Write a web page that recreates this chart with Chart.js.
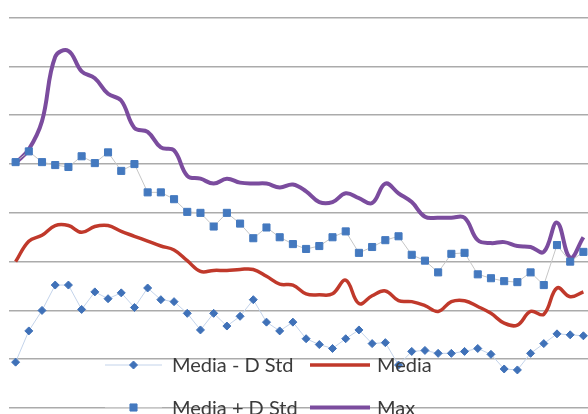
<!DOCTYPE html>
<html>
<head>
<meta charset="utf-8">
<title>Media y desviación estándar</title>
<script src="https://cdn.jsdelivr.net/npm/chart.js@4.4.1/dist/chart.umd.min.js"></script>
<style>
  html, body { margin: 0; padding: 0; background: #ffffff; overflow: hidden; }
  #wrap { width: 588px; height: 414px; overflow: hidden; position: relative; }
  #grafico { display: block; }
</style>
</head>
<body>
<div id="wrap"><canvas id="grafico" width="596" height="414"></canvas></div>
<script>
// Categorías del eje horizontal
const categorias = [
  '1','2','3','4','5','6','7','8','9','10','11','12','13','14','15','16','17','18','19','20','21','22',
  '23','24','25','26','27','28','29','30','31','32','33','34','35','36','37','38','39','40','41','42','43','44'
];

// Series
const mediaMenosDStd = [
  0.94, 1.58, 2.00, 2.52, 2.52, 2.02, 2.38, 2.24, 2.36, 2.06, 2.46, 2.22, 2.18, 1.94, 1.60, 1.94,
  1.68, 1.88, 2.22, 1.76, 1.58, 1.76, 1.42, 1.30, 1.22, 1.42, 1.60, 1.32, 1.34, 0.88, 1.16, 1.18,
  1.12, 1.12, 1.16, 1.22, 1.10, 0.80, 0.78, 1.12, 1.32, 1.52, 1.50, 1.48
];
const mediaMasDStd = [
  5.04, 5.26, 5.04, 4.98, 4.94, 5.16, 5.02, 5.24, 4.86, 5.00, 4.42, 4.42, 4.28, 4.02, 4.00, 3.72,
  4.00, 3.78, 3.48, 3.70, 3.50, 3.36, 3.26, 3.32, 3.50, 3.62, 3.18, 3.30, 3.44, 3.52, 3.14, 3.02,
  2.78, 3.16, 3.18, 2.74, 2.66, 2.60, 2.58, 2.78, 2.52, 3.34, 3.00, 3.20
];
const media = [
  3.00, 3.42, 3.54, 3.74, 3.74, 3.60, 3.72, 3.74, 3.62, 3.52, 3.42, 3.32, 3.24, 3.02, 2.80, 2.82,
  2.82, 2.84, 2.84, 2.70, 2.54, 2.52, 2.34, 2.32, 2.34, 2.62, 2.14, 2.30, 2.40, 2.20, 2.18, 2.10,
  1.98, 2.18, 2.20, 2.08, 1.94, 1.74, 1.70, 1.98, 1.92, 2.46, 2.28, 2.38
];
const maximo = [
  5.02, 5.30, 5.88, 7.20, 7.32, 6.90, 6.76, 6.44, 6.30, 5.74, 5.66, 5.34, 5.28, 4.76, 4.70, 4.60,
  4.70, 4.62, 4.60, 4.60, 4.52, 4.58, 4.44, 4.22, 4.22, 4.40, 4.30, 4.20, 4.60, 4.40, 4.22, 3.92,
  3.90, 3.90, 3.90, 3.44, 3.38, 3.40, 3.32, 3.30, 3.20, 3.80, 3.08, 3.50
];

// Leyenda dibujada dentro del área del gráfico, en dos filas y dos columnas
const leyendaInterna = {
  id: 'leyendaInterna',
  afterDatasetsDraw(chart, args, opts) {
    const ctx = chart.ctx;
    const ds = chart.data.datasets;
    ctx.save();
    opts.entradas.forEach(e => {
      const d = ds[e.indice];
      const y = opts.filas[e.fila];
      const col = opts.columnas[e.columna];
      ctx.beginPath();
      ctx.strokeStyle = d.borderColor;
      ctx.lineWidth = d.borderWidth;
      ctx.lineCap = 'butt';
      ctx.moveTo(col.x0, y);
      ctx.lineTo(col.x1, y);
      ctx.stroke();
      if (d.pointStyle && d.pointRadius > 0) {
        ctx.fillStyle = d.pointBackgroundColor;
        ctx.strokeStyle = d.pointBorderColor;
        ctx.lineWidth = 1;
        Chart.helpers.drawPoint(ctx, {
          pointStyle: d.pointStyle, radius: d.pointRadius, borderWidth: 1, rotation: 0
        }, (col.x0 + col.x1) / 2, y);
      }
      ctx.fillStyle = opts.color;
      ctx.font = opts.fuente;
      ctx.textBaseline = 'middle';
      ctx.textAlign = 'left';
      ctx.fillText(d.label, col.texto, y + 1);
    });
    ctx.restore();
  }
};

new Chart(document.getElementById('grafico'), {
  type: 'line',
  data: {
    labels: categorias,
    datasets: [
      {
        label: 'Media - D Std',
        data: mediaMenosDStd,
        borderColor: '#c3d3ea',
        borderWidth: 1,
        pointStyle: 'rectRot',
        pointRadius: 4,
        pointBackgroundColor: '#3f71b8',
        pointBorderColor: '#3f71b8',
        tension: 0
      },
      {
        label: 'Media + D Std',
        data: mediaMasDStd,
        borderColor: '#c6c6c6',
        borderWidth: 1,
        pointStyle: 'rect',
        pointRadius: 5,
        pointBackgroundColor: '#4479bf',
        pointBorderColor: '#4479bf',
        tension: 0
      },
      {
        label: 'Media',
        data: media,
        borderColor: '#c0392b',
        borderWidth: 3.5,
        pointRadius: 0,
        tension: 0.4
      },
      {
        label: 'Max',
        data: maximo,
        borderColor: '#7b4c9e',
        borderWidth: 4,
        pointRadius: 0,
        tension: 0.4
      }
    ]
  },
  options: {
    responsive: false,
    animation: false,
    layout: { padding: { left: 9, right: 1, top: 0, bottom: 2 } },
    plugins: {
      legend: { display: false },
      tooltip: { enabled: false },
      leyendaInterna: {
        filas: [365, 407.5],
        columnas: [
          { x0: 105, x1: 162, texto: 172 },
          { x0: 310, x1: 370, texto: 377 }
        ],
        entradas: [
          { indice: 0, fila: 0, columna: 0 },
          { indice: 2, fila: 0, columna: 1 },
          { indice: 1, fila: 1, columna: 0 },
          { indice: 3, fila: 1, columna: 1 }
        ],
        color: '#3b3b3b',
        fuente: '20px Lato'
      }
    },
    scales: {
      x: {
        display: false,
        offset: true
      },
      y: {
        min: 0,
        max: 8.24,
        border: { display: false },
        grid: { color: '#ababab', lineWidth: 1.6, drawTicks: false },
        ticks: { display: false, stepSize: 1, includeBounds: false },
        afterBuildTicks(scale) {
          scale.ticks = scale.ticks.filter(t => Number.isInteger(Math.round(t.value * 1000) / 1000));
        }
      }
    }
  },
  plugins: [leyendaInterna]
});
</script>
</body>
</html>
